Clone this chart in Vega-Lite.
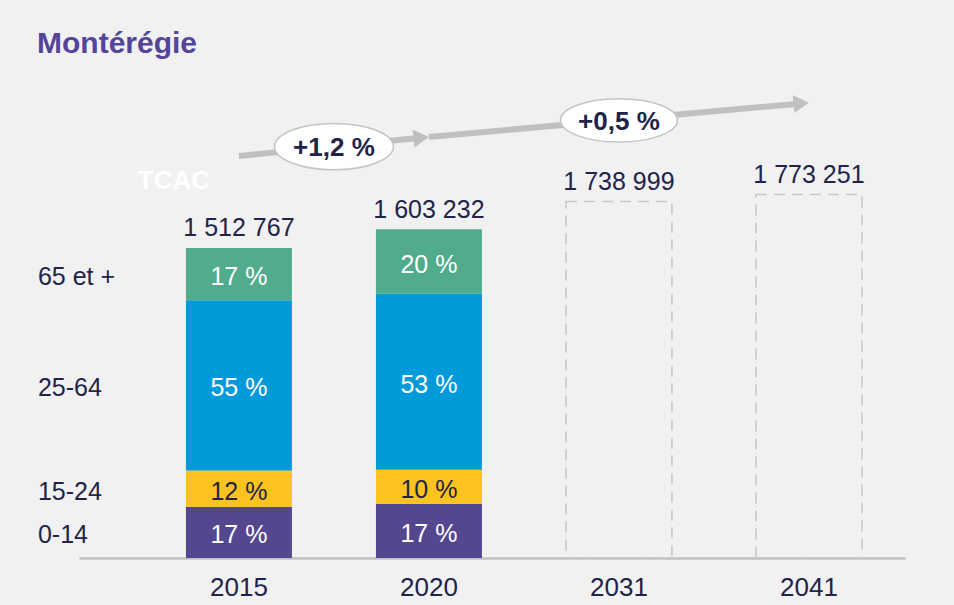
{
  "$schema": "https://vega.github.io/schema/vega-lite/v6.json",
  "width": 826,
  "height": 492,
  "autosize": {"type": "none"},
  "padding": {"left": 79, "top": 66, "right": 49, "bottom": 47},
  "background": "#f1f1f1",
  "config": {
    "view": {"stroke": null},
    "font": "Liberation Sans",
    "locale": {"number": {"decimal": ",", "thousands": " ", "grouping": [3], "currency": ["", " $"]}}
  },
  "title": {
    "text": "Montérégie",
    "anchor": "start",
    "frame": "group",
    "dx": -42,
    "dy": 33,
    "offset": 16,
    "baseline": "alphabetic",
    "fontSize": 30,
    "fontWeight": "bold",
    "color": "#54449a",
    "font": "Liberation Sans"
  },
  "datasets": {
    "segments": [
      {"year": "2015", "age": "0-14", "population": 250000, "share": "17 %"},
      {"year": "2015", "age": "15-24", "population": 177000, "share": "12 %"},
      {"year": "2015", "age": "25-64", "population": 830000, "share": "55 %"},
      {"year": "2015", "age": "65 et +", "population": 255767, "share": "17 %"},
      {"year": "2020", "age": "0-14", "population": 265000, "share": "17 %"},
      {"year": "2020", "age": "15-24", "population": 166000, "share": "10 %"},
      {"year": "2020", "age": "25-64", "population": 858000, "share": "53 %"},
      {"year": "2020", "age": "65 et +", "population": 314232, "share": "20 %"}
    ],
    "totals": [
      {"year": "2015", "total": 1512767, "kind": "observé"},
      {"year": "2020", "total": 1603232, "kind": "observé"},
      {"year": "2031", "total": 1738999, "kind": "projeté"},
      {"year": "2041", "total": 1773251, "kind": "projeté"}
    ],
    "arrows": [
      {"from": "2015", "to": "2020", "start": 1961000, "end": 2053600},
      {"from": "2020", "to": "2041", "start": 2053600, "end": 2221300}
    ],
    "growth": [
      {"period": "2015-2020", "anchor": "2015", "level": 2006800, "rate": "+1,2 %"},
      {"period": "2020-2041", "anchor": "2031", "level": 2135000, "rate": "+0,5 %"}
    ],
    "note": [
      {"label": "TCAC", "anchor": "2015", "level": 1845000}
    ]
  },
  "layer": [
    {
      "data": {"name": "segments"},
      "transform": [
        {"stack": "population", "groupby": ["year"], "sort": [{"field": "age", "order": "ascending"}], "as": ["y0", "y1"]}
      ],
      "mark": {"type": "bar"},
      "encoding": {
        "x": {
          "field": "year",
          "type": "nominal",
          "scale": {"domain": ["2015", "2020", "2031", "2041"], "paddingInner": 0.4421, "paddingOuter": 0.3947, "align": 0.713},
          "axis": {
            "title": null,
            "labelAngle": 0,
            "ticks": false,
            "domainColor": "#c0c0c0",
            "domainWidth": 2.6,
            "labelFontSize": 26,
            "labelColor": "#22234a",
            "labelFont": "Liberation Sans",
            "labelPadding": 37,
            "labelBaseline": "alphabetic"
          }
        },
        "y": {"field": "y0", "type": "quantitative", "scale": {"domain": [0, 2400000], "nice": false}, "axis": null},
        "y2": {"field": "y1"},
        "color": {
          "field": "age",
          "type": "nominal",
          "scale": {"domain": ["0-14", "15-24", "25-64", "65 et +"], "range": ["#54468f", "#fcc21d", "#009ada", "#50ac8c"]},
          "legend": null
        }
      }
    },
    {
      "data": {"name": "segments"},
      "transform": [
        {"stack": "population", "groupby": ["year"], "sort": [{"field": "age", "order": "ascending"}], "as": ["y0", "y1"]},
        {"fold": ["y0", "y1"], "as": ["bound", "value"]},
        {"aggregate": [{"op": "mean", "field": "value", "as": "mid"}], "groupby": ["year", "age", "share"]}
      ],
      "mark": {"type": "text", "fontSize": 25, "baseline": "middle", "dy": 3},
      "encoding": {
        "x": {"field": "year", "type": "nominal"},
        "y": {"field": "mid", "type": "quantitative", "axis": null},
        "text": {"field": "share"},
        "color": {"condition": {"test": "datum.age === '15-24'", "value": "#22234a"}, "value": "#ffffff"}
      }
    },
    {
      "data": {"name": "segments"},
      "transform": [
        {"filter": "datum.year === '2015'"},
        {"stack": "population", "groupby": ["year"], "sort": [{"field": "age", "order": "ascending"}], "as": ["y0", "y1"]},
        {"fold": ["y0", "y1"], "as": ["bound", "value"]},
        {"aggregate": [{"op": "mean", "field": "value", "as": "mid"}], "groupby": ["year", "age"]}
      ],
      "mark": {"type": "text", "fontSize": 25, "baseline": "middle", "align": "left", "dx": -201, "dy": 3, "color": "#22234a"},
      "encoding": {
        "x": {"field": "year", "type": "nominal"},
        "y": {"field": "mid", "type": "quantitative", "axis": null},
        "text": {"field": "age"}
      }
    },
    {
      "data": {"name": "totals"},
      "transform": [{"filter": "datum.kind === 'projeté'"}],
      "mark": {"type": "bar", "fillOpacity": 0, "stroke": "#c9c9c9", "strokeWidth": 1.6, "strokeDash": [11, 7]},
      "encoding": {
        "x": {"field": "year", "type": "nominal"},
        "y": {"field": "total", "type": "quantitative", "axis": null}
      }
    },
    {
      "data": {"name": "totals"},
      "mark": {"type": "text", "fontSize": 25, "baseline": "alphabetic", "dy": -11.5, "color": "#22234a"},
      "encoding": {
        "x": {"field": "year", "type": "nominal"},
        "y": {"field": "total", "type": "quantitative", "axis": null},
        "text": {"field": "total", "type": "quantitative", "format": ",d"}
      }
    },
    {
      "data": {"name": "arrows"},
      "mark": {"type": "rule", "strokeWidth": 6, "color": "#c0c0c0", "strokeCap": "butt", "x2Offset": -13, "y2Offset": 1.3},
      "encoding": {
        "x": {"field": "from", "type": "nominal", "bandPosition": 0.5},
        "x2": {"field": "to", "bandPosition": 0.5},
        "y": {"field": "start", "type": "quantitative", "axis": null},
        "y2": {"field": "end"}
      }
    },
    {
      "data": {"name": "arrows"},
      "mark": {"type": "point", "shape": "triangle-right", "size": 320, "angle": -5.4, "filled": true, "color": "#c0c0c0", "opacity": 1, "strokeWidth": 0, "xOffset": -7.7, "yOffset": 0.75},
      "encoding": {
        "x": {"field": "to", "type": "nominal", "bandPosition": 0.5},
        "y": {"field": "end", "type": "quantitative", "axis": null}
      }
    },
    {
      "data": {"name": "growth"},
      "transform": [{"filter": "datum.period === '2015-2020'"}],
      "encoding": {
        "x": {"field": "anchor", "type": "nominal"},
        "y": {"field": "level", "type": "quantitative", "axis": null}
      },
      "layer": [
        {"mark": {"type": "point", "shape": "M -1 0 A 1 0.39 0 1 0 1 0 A 1 0.39 0 1 0 -1 0 Z", "size": 14161, "filled": true, "fill": "#ffffff", "stroke": "#c4c4c4", "strokeWidth": 1.5, "opacity": 1, "xOffset": 95}},
        {"mark": {"type": "text", "fontSize": 26, "fontWeight": "bold", "baseline": "middle", "dx": 95, "dy": 1.5, "color": "#22234a"}, "encoding": {"text": {"field": "rate"}}}
      ]
    },
    {
      "data": {"name": "growth"},
      "transform": [{"filter": "datum.period === '2020-2041'"}],
      "encoding": {
        "x": {"field": "anchor", "type": "nominal"},
        "y": {"field": "level", "type": "quantitative", "axis": null}
      },
      "layer": [
        {"mark": {"type": "point", "shape": "M -1 0 A 1 0.37 0 1 0 1 0 A 1 0.37 0 1 0 -1 0 Z", "size": 13689, "filled": true, "fill": "#ffffff", "stroke": "#c4c4c4", "strokeWidth": 1.5, "opacity": 1}},
        {"mark": {"type": "text", "fontSize": 26, "fontWeight": "bold", "baseline": "middle", "dy": 1.5, "color": "#22234a"}, "encoding": {"text": {"field": "rate"}}}
      ]
    },
    {
      "data": {"name": "note"},
      "mark": {"type": "text", "fontSize": 26, "fontWeight": "bold", "baseline": "middle", "dx": -65, "dy": 1.5, "color": "#ffffff"},
      "encoding": {
        "x": {"field": "anchor", "type": "nominal"},
        "y": {"field": "level", "type": "quantitative", "axis": null},
        "text": {"field": "label"}
      }
    }
  ]
}
